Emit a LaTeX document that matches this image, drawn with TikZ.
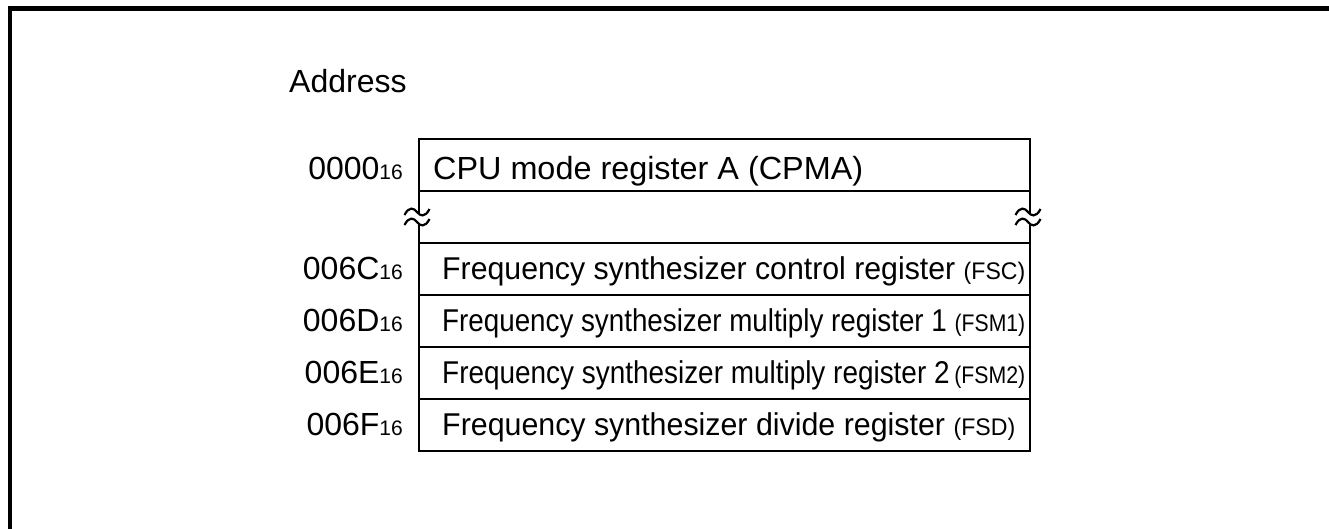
\documentclass[tikz,border=0pt]{standalone}
\usepackage{fontspec}
\setmainfont{Liberation Sans}
\newcommand{\smtxt}[1]{{\fontsize{24}{28}\selectfont #1}}
\newcommand{\hexa}[1]{{\fontsize{32}{38}\selectfont #1}{\fontsize{21}{24}\selectfont 16}}
\newcommand{\fitw}[2]{\resizebox{#1}{\height}{#2}}
\newcommand{\brk}[2]{%
  \draw[frame] (#1-12.5,#2+3) .. controls (#1-8,#2-6) and (#1-3,#2-4) .. (#1,#2) .. controls (#1+3,#2+4) and (#1+8,#2+6) .. (#1+12.5,#2-3);}
\tikzset{
  frame/.style={line width=2.2pt},
  border/.style={line width=4.5pt},
  big/.style={font=\fontsize{32}{38}\selectfont, inner sep=0pt, anchor=base west},
  reg/.style={font=\fontsize{31.5}{36}\selectfont, inner sep=0pt, anchor=base west},
  addr/.style={inner sep=0pt, anchor=base east},
}
\begin{document}
\begin{tikzpicture}[x=1pt,y=-1pt]
\useasboundingbox (0,0) rectangle (1329,528);
% outer border (left and top)
\draw[border] (10,535) -- (10,8.5) -- (1335,8.5);
% table
\draw[frame] (419,139) rectangle (1030,191);
\draw[frame] (419,243) rectangle (1030,451);
\draw[frame] (419,295) -- (1030,295);
\draw[frame] (419,347) -- (1030,347);
\draw[frame] (419,399) -- (1030,399);
% broken sides
\draw[frame] (419,191) -- (419,212.5) (419,222.5) -- (419,243);
\draw[frame] (1030,191) -- (1030,212.5) (1030,222.5) -- (1030,243);
\brk{417}{212}
\brk{417}{222}
\brk{1028}{212}
\brk{1028}{222}
% texts
\node[big] (addrlbl) at (289,92) {Address};
\node[big] (cpma) at (433,179) {\fitw{430pt}{CPU mode register A (CPMA)}};
\node[reg] (fsc) at (442,279) {\fitw{583pt}{Frequency synthesizer control register \smtxt{(FSC)}}};
\node[reg] (fsmone) at (442,331) {\fitw{583pt}{Frequency synthesizer multiply register 1 \smtxt{(FSM1)}}};
\node[reg] (fsmtwo) at (442,383) {\fitw{583pt}{Frequency synthesizer multiply register 2\,\smtxt{(FSM2)}}};
\node[reg] (fsd) at (442,435) {\fitw{573pt}{Frequency synthesizer divide register \smtxt{(FSD)}}};
\node[addr] (aa) at (403,179) {\hexa{0000}};
\node[addr] (ac) at (403,279) {\hexa{006C}};
\node[addr] (ad) at (403,331) {\hexa{006D}};
\node[addr] (ae) at (403,383) {\hexa{006E}};
\node[addr] (af) at (403,435) {\hexa{006F}};
\end{tikzpicture}
\end{document}
